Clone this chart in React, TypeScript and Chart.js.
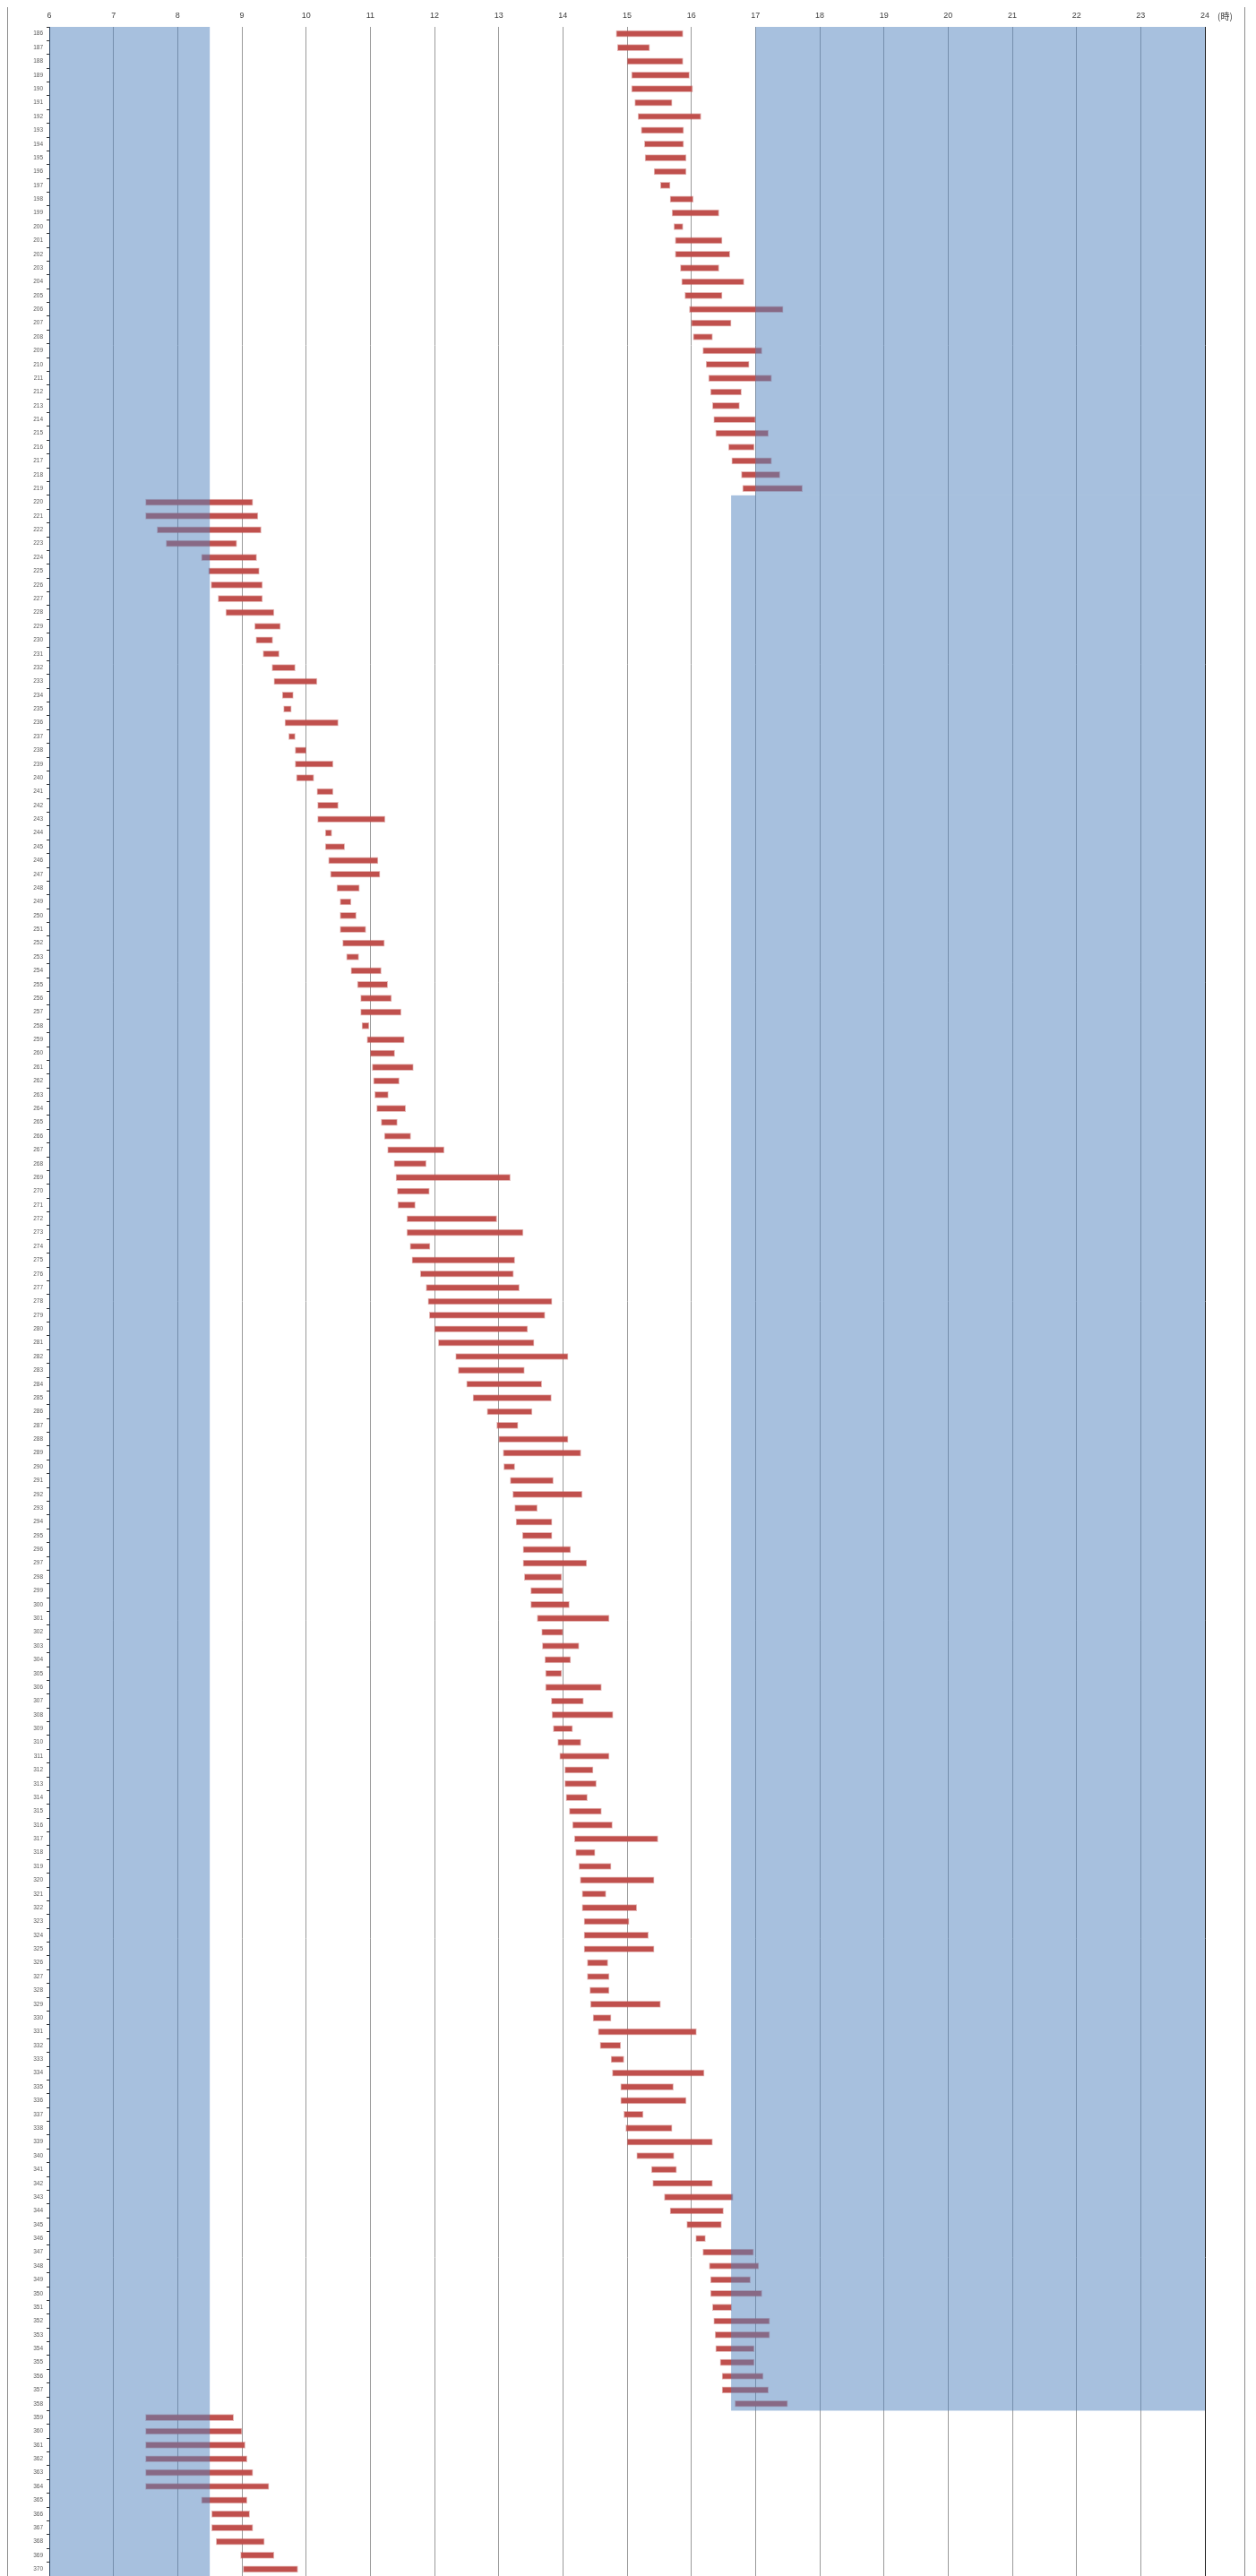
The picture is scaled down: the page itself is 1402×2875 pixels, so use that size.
import React, { useEffect, useRef } from 'react';
import { Chart, registerables } from 'chart.js';

Chart.register(...registerables);

// Day numbers (categories, top to bottom)
const dayLabels: string[] = [
  '186','187','188','189','190','191','192','193','194','195','196','197','198','199','200',
  '201','202','203','204','205','206','207','208','209','210','211','212','213','214','215',
  '216','217','218','219','220','221','222','223','224','225','226','227','228','229','230',
  '231','232','233','234','235','236','237','238','239','240','241','242','243','244','245',
  '246','247','248','249','250','251','252','253','254','255','256','257','258','259','260',
  '261','262','263','264','265','266','267','268','269','270','271','272','273','274','275',
  '276','277','278','279','280','281','282','283','284','285','286','287','288','289','290',
  '291','292','293','294','295','296','297','298','299','300','301','302','303','304','305',
  '306','307','308','309','310','311','312','313','314','315','316','317','318','319','320',
  '321','322','323','324','325','326','327','328','329','330','331','332','333','334','335',
  '336','337','338','339','340','341','342','343','344','345','346','347','348','349','350',
  '351','352','353','354','355','356','357','358','359','360','361','362','363','364','365',
  '366','367','368','369','370',
];

// Start hour of each bar (same order as dayLabels)
const barStart: number[] = [
  14.83, 14.85, 15.0, 15.07, 15.07, 15.12, 15.17, 15.22, 15.27, 15.28, 15.42, 15.52, 15.67, 15.7, 15.73,
  15.75, 15.75, 15.83, 15.85, 15.9, 15.97, 16.0, 16.03, 16.18, 16.23, 16.27, 16.3, 16.33, 16.35, 16.38,
  16.58, 16.63, 16.78, 16.8, 7.5, 7.5, 7.68, 7.82, 8.37, 8.48, 8.52, 8.63, 8.75, 9.2, 9.22,
  9.33, 9.47, 9.5, 9.63, 9.65, 9.67, 9.73, 9.83, 9.83, 9.85, 10.17, 10.18, 10.18, 10.3, 10.3,
  10.35, 10.38, 10.48, 10.53, 10.53, 10.53, 10.57, 10.63, 10.7, 10.8, 10.85, 10.85, 10.87, 10.95, 11.0,
  11.03, 11.05, 11.07, 11.1, 11.17, 11.22, 11.27, 11.37, 11.4, 11.42, 11.43, 11.57, 11.57, 11.62, 11.65,
  11.78, 11.87, 11.9, 11.92, 12.0, 12.06, 12.33, 12.37, 12.5, 12.6, 12.82, 12.97, 13.0, 13.07, 13.08,
  13.18, 13.22, 13.25, 13.27, 13.37, 13.38, 13.38, 13.4, 13.5, 13.5, 13.6, 13.67, 13.68, 13.72, 13.73,
  13.73, 13.82, 13.83, 13.85, 13.92, 13.95, 14.03, 14.03, 14.05, 14.1, 14.15, 14.18, 14.2, 14.25, 14.27,
  14.3, 14.3, 14.33, 14.33, 14.33, 14.38, 14.38, 14.42, 14.43, 14.47, 14.55, 14.58, 14.75, 14.77, 14.9,
  14.9, 14.95, 14.98, 15.0, 15.15, 15.38, 15.4, 15.58, 15.67, 15.93, 16.07, 16.18, 16.28, 16.3, 16.3,
  16.33, 16.35, 16.37, 16.38, 16.45, 16.48, 16.48, 16.68, 7.5, 7.5, 7.5, 7.5, 7.5, 7.5, 8.37,
  8.53, 8.53, 8.6, 8.98, 9.02,
];

// End hour of each bar
const barEnd: number[] = [
  15.87, 15.35, 15.87, 15.97, 16.02, 15.7, 16.15, 15.88, 15.88, 15.92, 15.92, 15.67, 16.03, 16.43, 15.87,
  16.48, 16.6, 16.43, 16.82, 16.48, 17.43, 16.62, 16.33, 17.1, 16.9, 17.25, 16.78, 16.75, 17.0, 17.2,
  16.98, 17.25, 17.38, 17.73, 9.17, 9.25, 9.3, 8.92, 9.23, 9.27, 9.32, 9.32, 9.5, 9.6, 9.48,
  9.58, 9.83, 10.17, 9.8, 9.77, 10.5, 9.83, 10.0, 10.42, 10.12, 10.42, 10.5, 11.23, 10.4, 10.6,
  11.12, 11.15, 10.83, 10.7, 10.78, 10.93, 11.22, 10.82, 11.17, 11.27, 11.33, 11.48, 10.98, 11.53, 11.38,
  11.67, 11.45, 11.28, 11.55, 11.42, 11.63, 12.15, 11.87, 13.18, 11.92, 11.7, 12.97, 13.38, 11.93, 13.25,
  13.23, 13.32, 13.83, 13.72, 13.45, 13.55, 14.08, 13.4, 13.67, 13.82, 13.52, 13.3, 14.08, 14.28, 13.25,
  13.85, 14.3, 13.6, 13.83, 13.83, 14.12, 14.37, 13.98, 14.0, 14.1, 14.72, 14.0, 14.25, 14.12, 13.98,
  14.6, 14.32, 14.78, 14.15, 14.28, 14.72, 14.47, 14.52, 14.38, 14.6, 14.77, 15.48, 14.5, 14.75, 15.42,
  14.67, 15.15, 15.03, 15.33, 15.42, 14.7, 14.72, 14.72, 15.52, 14.75, 16.08, 14.9, 14.95, 16.2, 15.72,
  15.92, 15.25, 15.7, 16.33, 15.73, 15.77, 16.33, 16.65, 16.5, 16.47, 16.22, 16.97, 17.05, 16.92, 17.1,
  16.63, 17.22, 17.22, 16.98, 16.98, 17.12, 17.2, 17.5, 8.87, 9.0, 9.05, 9.08, 9.17, 9.42, 9.08,
  9.12, 9.17, 9.35, 9.5, 9.87,
];

// Night (dark) bands: first day, last day, start hour, end hour
const bandFrom: string[] = ['186', '186', '220'];
const bandTo: string[] = ['370', '219', '358'];
const bandStart: number[] = [6, 17, 16.62];
const bandEnd: number[] = [8.5, 24, 24];

const hourMin = 6;
const hourMax = 24;
const unitLabel = '(時)';

const W = 1382;
const H = 2890;

const nightPlugin = {
  id: 'nightBands',
  afterDatasetsDraw(chart: any) {
    const { ctx } = chart;
    const x = chart.scales.x;
    const y = chart.scales.y;
    const step = y.getPixelForValue(1) - y.getPixelForValue(0);
    ctx.save();
    ctx.fillStyle = 'rgba(79,129,189,0.5)';
    for (let i = 0; i < bandFrom.length; i++) {
      const i0 = dayLabels.indexOf(bandFrom[i]);
      const i1 = dayLabels.indexOf(bandTo[i]);
      const top = y.getPixelForValue(i0) - step / 2;
      const bottom = y.getPixelForValue(i1) + step / 2;
      const left = x.getPixelForValue(bandStart[i]);
      const right = x.getPixelForValue(bandEnd[i]);
      ctx.fillRect(left, top, right - left, bottom - top);
    }
    ctx.restore();
  },
  afterDraw(chart: any) {
    const { ctx } = chart;
    const x = chart.scales.x;
    ctx.save();
    ctx.font = '10px "Noto Sans CJK JP", "Liberation Sans", sans-serif';
    ctx.fillStyle = '#404040';
    ctx.textBaseline = 'middle';
    ctx.textAlign = 'left';
    ctx.fillText(unitLabel, x.getPixelForValue(hourMax) + 14, 18.5);
    ctx.restore();
  },
};

export default function App() {
  const ref = useRef<HTMLCanvasElement | null>(null);

  useEffect(() => {
    if (!ref.current) return;
    const data = dayLabels.map((_, i) => [barStart[i], barEnd[i]]);
    const chart = new Chart(ref.current, {
      type: 'bar',
      data: {
        labels: dayLabels,
        datasets: [
          {
            label: 'time',
            data: data as any,
            backgroundColor: '#C0504D',
            borderColor: 'rgba(192,80,77,0.4)',
            borderWidth: 1,
            borderSkipped: false,
            barThickness: 7,
          },
        ],
      },
      options: {
        indexAxis: 'y',
        responsive: false,
        maintainAspectRatio: false,
        devicePixelRatio: 1,
        animation: false,
        layout: { padding: { left: 0, right: 45, top: 0, bottom: 15 } },
        plugins: { legend: { display: false }, tooltip: { enabled: false } },
        scales: {
          x: {
            type: 'linear',
            position: 'top',
            min: hourMin,
            max: hourMax,
            afterFit: (s: any) => { s.height = 30; },
            ticks: {
              stepSize: 1,
              padding: 7,
              color: '#404040',
              font: { family: '"Liberation Sans", Arial, sans-serif', size: 9 },
            },
            grid: {
              drawTicks: false,
              lineWidth: 1,
              color: (c: any) => (c.tick && c.tick.value === hourMax ? '#1a1a1a' : '#9a9a9a'),
            },
            border: { display: false },
          },
          y: {
            type: 'category',
            offset: true,
            afterFit: (s: any) => { s.width = 47; },
            ticks: {
              autoSkip: false,
              padding: 4,
              color: '#595959',
              font: { family: '"Liberation Sans", Arial, sans-serif', size: 6.5 },
            },
            grid: {
              offset: true,
              drawOnChartArea: false,
              drawTicks: true,
              tickLength: 3,
              color: '#333',
            },
            border: { display: true, color: '#000', width: 1 },
          },
        },
      },
      plugins: [nightPlugin],
    });
    return () => chart.destroy();
  }, []);

  return (
    <div style={{ position: 'relative', top: -8, width: W, height: H }}>
      <canvas ref={ref} width={W} height={H} style={{ display: 'block', width: W, height: H }} />
      <div
        style={{
          position: 'absolute',
          left: 0,
          top: 0,
          width: W,
          height: H,
          boxSizing: 'border-box',
          border: '1px solid #8c8c8c',
          pointerEvents: 'none',
        }}
      />
    </div>
  );
}
